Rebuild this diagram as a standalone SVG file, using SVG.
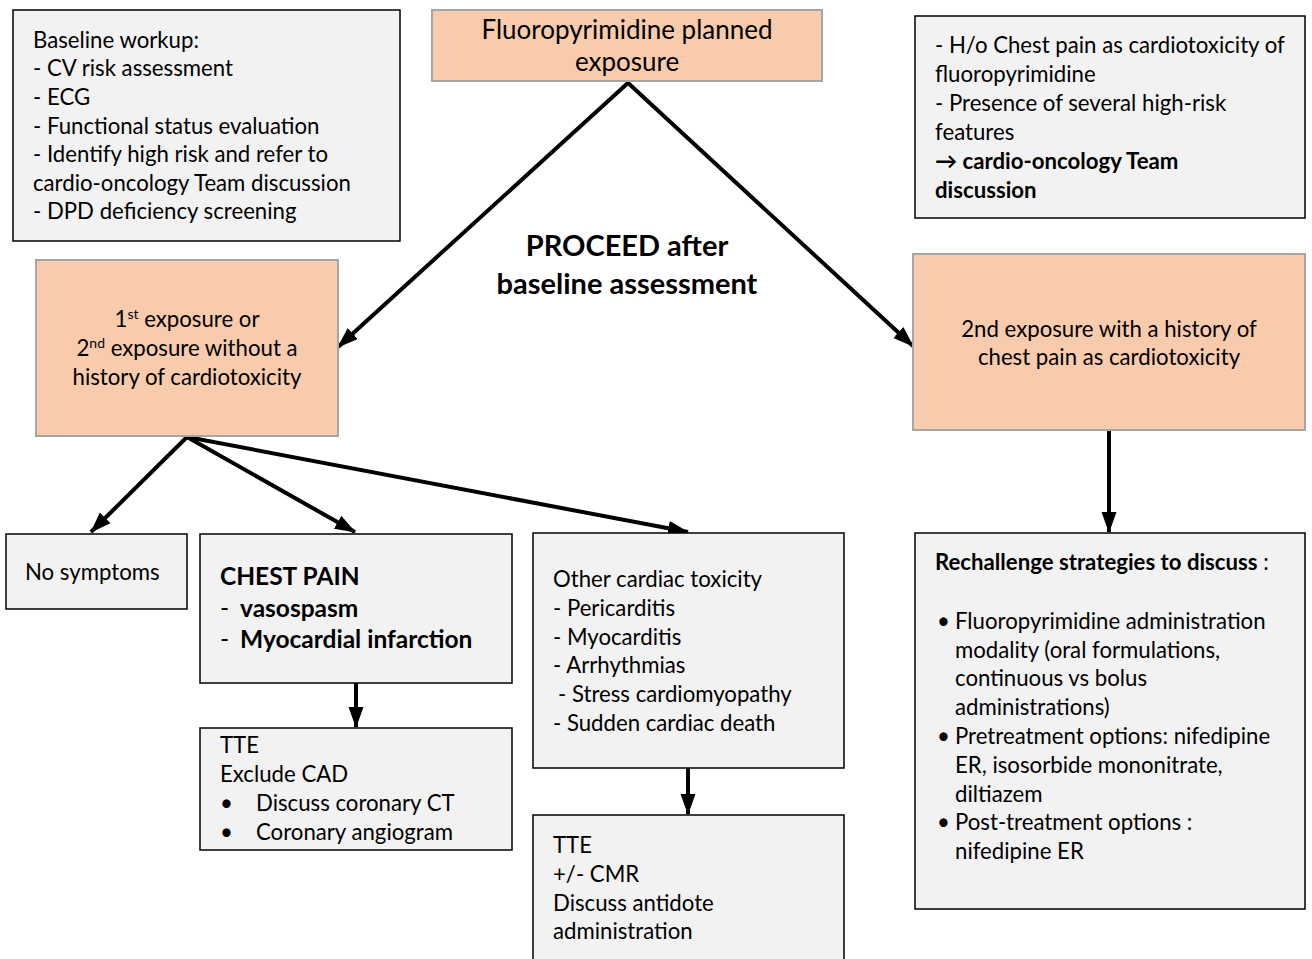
<svg xmlns="http://www.w3.org/2000/svg" width="1312" height="959" viewBox="0 0 1312 959">
  <style>
    text { font-family: Lato, "Open Sans", "Liberation Sans", sans-serif; fill: #000; }
    .t { font-size: 22.2px; }
    .b { font-weight: bold; }
    .grey { fill: #f2f2f2; stroke: #000; stroke-width: 1.5; }
    .peach { fill: #f8cbad; stroke: #a6a6a6; stroke-width: 2; }
    .link { stroke: #000; stroke-width: 4; fill: none; marker-end: url(#head); }
  </style>
  <defs>
    <marker id="head" markerUnits="userSpaceOnUse" markerWidth="22" markerHeight="22" viewBox="0 0 22 22" refX="20" refY="11" orient="auto">
      <path d="M0,3.5 L21,11 L0,18.5 Z" fill="#000"/>
    </marker>
  </defs>

  <rect width="1312" height="959" fill="#fff"/>

  <!-- connectors -->
  <g id="connectors">
    <path class="link" d="M629,82 L338,347"/>
    <path class="link" d="M627,82 L913,346"/>
    <path class="link" d="M187,437 L91,532"/>
    <path class="link" d="M187,437 L355,532"/>
    <path class="link" d="M187,437 L688,532"/>
    <path class="link" d="M356,683 L356,727"/>
    <path class="link" d="M688,768 L688,814"/>
    <path class="link" d="M1109,430 L1109,532"/>
  </g>

  <g id="baseline-workup">
    <rect class="grey" x="13" y="10" width="387" height="231"/>
    <text class="t" x="33" y="48">Baseline workup:</text>
    <text class="t" x="33" y="76">- CV risk assessment</text>
    <text class="t" x="33" y="105">- ECG</text>
    <text class="t" x="33" y="134">- Functional status evaluation</text>
    <text class="t" x="33" y="162">- Identify high risk  and refer to</text>
    <text class="t" x="33" y="191">cardio-oncology Team discussion</text>
    <text class="t" x="33" y="219">- DPD deficiency screening</text>
  </g>

  <g id="planned-exposure">
    <rect class="peach" x="432" y="10" width="390" height="71"/>
    <text x="627" y="39" text-anchor="middle" font-size="26">Fluoropyrimidine planned</text>
    <text x="627" y="71" text-anchor="middle" font-size="26">exposure</text>
  </g>

  <g id="team-discussion">
    <rect class="grey" x="915" y="16" width="390" height="202"/>
    <text class="t" x="935" y="53">- H/o Chest pain as cardiotoxicity of</text>
    <text class="t" x="935" y="82">fluoropyrimidine</text>
    <text class="t" x="935" y="111">- Presence of several high-risk</text>
    <text class="t" x="935" y="140">features</text>
    <text class="t b" x="935" y="169">→ cardio-oncology Team</text>
    <text class="t b" x="935" y="198">discussion</text>
  </g>

  <g id="proceed-label">
    <text class="b" x="627" y="256" text-anchor="middle" font-size="29">PROCEED after</text>
    <text class="b" x="627" y="294" text-anchor="middle" font-size="29">baseline assessment</text>
  </g>

  <g id="first-exposure">
    <rect class="peach" x="36" y="260" width="302" height="176"/>
    <text class="t" x="187" y="327" text-anchor="middle">1<tspan font-size="14" dy="-8">st</tspan><tspan dy="8"> exposure or</tspan></text>
    <text class="t" x="187" y="356" text-anchor="middle">2<tspan font-size="14" dy="-8">nd</tspan><tspan dy="8"> exposure without a</tspan></text>
    <text class="t" x="187" y="385" text-anchor="middle">history of cardiotoxicity</text>
  </g>

  <g id="second-exposure">
    <rect class="peach" x="913" y="254" width="392" height="176"/>
    <text class="t" x="1109" y="337" text-anchor="middle">2nd exposure with a history of</text>
    <text class="t" x="1109" y="365" text-anchor="middle">chest pain as cardiotoxicity</text>
  </g>

  <g id="no-symptoms">
    <rect class="grey" x="6" y="534" width="181" height="75"/>
    <text class="t" x="25" y="580">No symptoms</text>
  </g>

  <g id="chest-pain">
    <rect class="grey" x="200" y="534" width="312" height="149"/>
    <text class="b" x="220" y="585" font-size="24.5">CHEST PAIN</text>
    <text class="b" x="220" y="617" font-size="24.5"><tspan font-weight="normal">-</tspan><tspan x="240">vasospasm</tspan></text>
    <text class="b" x="220" y="648" font-size="24.5"><tspan font-weight="normal">-</tspan><tspan x="240">Myocardial infarction</tspan></text>
  </g>

  <g id="chest-pain-workup">
    <rect class="grey" x="200" y="728" width="312" height="122"/>
    <text class="t" x="220" y="753">TTE</text>
    <text class="t" x="220" y="782">Exclude CAD</text>
    <text class="t" x="220" y="811">•<tspan x="256">Discuss coronary CT</tspan></text>
    <text class="t" x="220" y="840">•<tspan x="256">Coronary angiogram</tspan></text>
  </g>

  <g id="other-toxicity">
    <rect class="grey" x="533" y="533" width="311" height="235"/>
    <text class="t" x="553" y="587">Other cardiac toxicity</text>
    <text class="t" x="553" y="616">- Pericarditis</text>
    <text class="t" x="553" y="645">- Myocarditis</text>
    <text class="t" x="553" y="673">- Arrhythmias</text>
    <text class="t" x="558" y="702">- Stress cardiomyopathy</text>
    <text class="t" x="553" y="731">- Sudden cardiac death</text>
  </g>

  <g id="other-toxicity-workup">
    <rect class="grey" x="533" y="815" width="311" height="160"/>
    <text class="t" x="553" y="853">TTE</text>
    <text class="t" x="553" y="882">+/- CMR</text>
    <text class="t" x="553" y="911">Discuss antidote</text>
    <text class="t" x="553" y="939">administration</text>
  </g>

  <g id="rechallenge">
    <rect class="grey" x="915" y="533" width="390" height="376"/>
    <text class="t" x="935" y="570"><tspan font-weight="bold">Rechallenge strategies to discuss</tspan> :</text>
    <text class="t" x="937" y="629" font-size="18">•</text>
    <text class="t" x="955" y="629">Fluoropyrimidine administration</text>
    <text class="t" x="955" y="658">modality (oral formulations,</text>
    <text class="t" x="955" y="686">continuous vs bolus</text>
    <text class="t" x="955" y="715">administrations)</text>
    <text class="t" x="937" y="744" font-size="18">•</text>
    <text class="t" x="955" y="744">Pretreatment options: nifedipine</text>
    <text class="t" x="955" y="773">ER, isosorbide mononitrate,</text>
    <text class="t" x="955" y="802">diltiazem</text>
    <text class="t" x="937" y="830" font-size="18">•</text>
    <text class="t" x="955" y="830">Post-treatment options :</text>
    <text class="t" x="955" y="859">nifedipine ER</text>
  </g>
</svg>
